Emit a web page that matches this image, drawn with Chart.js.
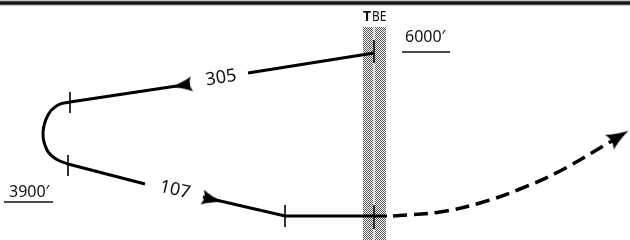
<!DOCTYPE html>
<html lang="en">
<head>
    <meta charset="UTF-8">
    <title>TBE procedure turn profile</title>
    <script src="https://cdn.jsdelivr.net/npm/chart.js"></script>
    <style>
        body { margin: 0; background: #fff; }
        canvas { display: block; }
    </style>
</head>
<body>
    <canvas id="myChart" width="630" height="240"></canvas>

    <script>
        // plan view in pixel-like units (x right, y down)
        const topRule = [[0, 3], [630, 3]];
        const fixBand = [[374.5, 27], [374.5, 240]];
        const bandCentre = [[374, 27], [374, 240]];

        // outbound leg 305, broken for its label
        const outboundNear = [[248, 73], [374, 53]];
        const outboundFar = [[190, 84], [70, 102]];
        // procedure turn
        const turn = [[70, 102], [58, 105], [48, 115], [43, 133], [47, 150], [56, 159], [68, 164]];
        // inbound leg 107
        const inboundFar = [[68, 164], [145, 184]];
        const inboundNear = [[203, 197], [285, 216], [387, 216]];
        // missed approach (dashed)
        const missed = [[393, 216], [440, 212], [480, 203], [520, 189], [560, 171], [612, 141]];

        const ticks = [
            [[374, 40], [374, 63]],
            [[70, 92], [70, 113]],
            [[68, 155], [68, 176]],
            [[285, 205], [285, 227]],
            [[374, 205], [374, 229]]
        ];
        const underlines = [
            [[402, 52], [450, 52]],
            [[4, 202], [53, 202]]
        ];

        // arrowheads: position and heading in degrees
        const arrowPoints = [[181.5, 85.5], [212.5, 199.5], [619, 136.5]];
        const arrowAngles = [171, 13, -31];

        const labelTexts = ['305', '107', '6000′', '3900′', 'T', 'BE'];
        const labelPoints = [[221, 78], [175, 190], [405, 42], [9, 197], [363, 21], [372, 21]];
        const labelAngles = [-9, 13, 0, 0, 0, 0];

        const pts = a => a.map(([x, y]) => ({ x, y }));

        function checker() {
            const c = document.createElement('canvas');
            c.width = 2; c.height = 2;
            const g = c.getContext('2d');
            g.fillStyle = '#fff';
            g.fillRect(0, 0, 2, 2);
            g.fillStyle = '#555';
            g.fillRect(0, 0, 1, 1);
            g.fillRect(1, 1, 1, 1);
            return document.getElementById('myChart').getContext('2d').createPattern(c, 'repeat');
        }

        function arrowHead(len, wid) {
            const size = Math.ceil(Math.max(len, wid)) + 4;
            const c = document.createElement('canvas');
            c.width = size; c.height = size;
            const g = c.getContext('2d');
            const m = size / 2;
            g.fillStyle = '#000';
            g.beginPath();
            g.moveTo(m + len / 2, m);
            g.quadraticCurveTo(m - len * 0.1, m - wid * 0.2, m - len / 2, m - wid / 2);
            g.quadraticCurveTo(m - len * 0.3, m, m - len / 2, m + wid / 2);
            g.quadraticCurveTo(m - len * 0.1, m + wid * 0.2, m + len / 2, m);
            g.closePath();
            g.fill();
            return c;
        }

        function line(data, width, extra) {
            return Object.assign({
                data: pts(data),
                showLine: true,
                borderColor: '#000',
                backgroundColor: '#000',
                borderWidth: width,
                pointRadius: 0,
                fill: false,
                tension: 0,
                clip: false,
                order: 1
            }, extra || {});
        }

        const datasets = [];
        datasets.push(line(fixBand, 23, { borderColor: checker(), order: 5 }));
        datasets.push(line(bandCentre, 1, { borderColor: '#e6e6e6', order: 4 }));
        datasets.push(line(topRule, 5, { borderColor: '#888', order: 3 }));
        datasets.push(line(topRule, 3, { borderColor: '#111', order: 2 }));

        [outboundNear, outboundFar, inboundFar, inboundNear].forEach(d => datasets.push(line(d, 3)));
        datasets.push(line(turn, 3, { tension: 0.4 }));
        datasets.push(line(missed, 3.5, { borderDash: [14, 7], tension: 0.4 }));
        ticks.forEach(d => datasets.push(line(d, 1.6)));
        underlines.forEach(d => datasets.push(line(d, 1.5, { borderColor: '#111' })));

        const heads = [arrowHead(21, 15), arrowHead(21, 15), arrowHead(22, 17)];
        arrowPoints.forEach((p, i) => {
            datasets.push({
                data: pts([p]),
                showLine: false,
                pointStyle: heads[i],
                pointRotation: arrowAngles[i],
                pointRadius: 8,
                clip: false,
                order: 0
            });
        });

        const labelPlugin = {
            id: 'labels',
            afterDatasetsDraw(chart) {
                const { ctx, scales } = chart;
                labelTexts.forEach((t, i) => {
                    const x = scales.x.getPixelForValue(labelPoints[i][0]);
                    const y = scales.y.getPixelForValue(labelPoints[i][1]);
                    ctx.save();
                    ctx.fillStyle = '#111';
                    ctx.translate(x, y);
                    if (labelAngles[i] !== 0) {
                        ctx.rotate(labelAngles[i] * Math.PI / 180);
                        ctx.font = '18px "Noto Sans"';
                        ctx.textAlign = 'center';
                        ctx.textBaseline = 'middle';
                    } else if (t === 'T') {
                        ctx.font = 'bold 14px "Noto Sans"';
                        ctx.textAlign = 'left';
                        ctx.textBaseline = 'alphabetic';
                    } else if (t === 'BE') {
                        ctx.font = '14px "Noto Sans"';
                        ctx.scale(0.85, 1);
                        ctx.textAlign = 'left';
                        ctx.textBaseline = 'alphabetic';
                    } else {
                        ctx.font = '16px "Noto Sans"';
                        ctx.textAlign = 'left';
                        ctx.textBaseline = 'alphabetic';
                    }
                    ctx.fillText(t, 0, 0);
                    ctx.restore();
                });
            }
        };

        new Chart(document.getElementById('myChart').getContext('2d'), {
            type: 'scatter',
            data: { datasets: datasets },
            options: {
                responsive: false,
                animation: false,
                events: [],
                layout: { padding: 0, autoPadding: false },
                plugins: {
                    legend: { display: false },
                    tooltip: { enabled: false }
                },
                scales: {
                    x: { type: 'linear', min: 0, max: 630, display: false },
                    y: { type: 'linear', min: 0, max: 240, reverse: true, display: false }
                }
            },
            plugins: [labelPlugin]
        });
    </script>
</body>
</html>
